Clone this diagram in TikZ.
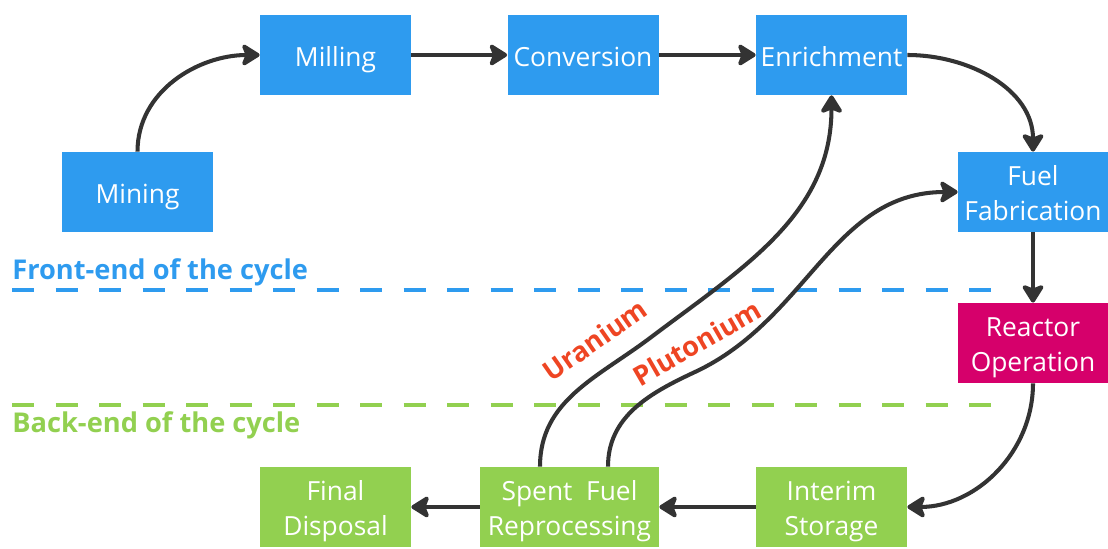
\documentclass[tikz,border=0pt]{standalone}
\usepackage{fontspec}
\setmainfont{Open Sans}
\usetikzlibrary{arrows.meta}
\definecolor{stageblue}{HTML}{2E9BEF}
\definecolor{stagegreen}{HTML}{92D050}
\definecolor{reactorpink}{HTML}{D6006B}
\definecolor{flowgray}{HTML}{333333}
\definecolor{fuelred}{HTML}{EE4523}
\begin{document}
\begin{tikzpicture}[stage/.style={rectangle,minimum width=3.02cm,minimum height=1.6cm,inner sep=0pt,align=center,text=white,font=\fontsize{15}{20}\selectfont,
execute at begin node={\rule{0pt}{16.5pt}},execute at end node={\rule[-3.8pt]{0pt}{3.8pt}}},
twoline/.style={text height=36pt,text depth=3.8pt},
front/.style={stage,fill=stageblue},back/.style={stage,twoline,fill=stagegreen},
flow/.style={draw=flowgray,line width=2.3pt,-{Stealth[length=0.42cm,width=0.52cm,inset=0.1cm,round]}},
phase/.style={line width=2.8pt,dash pattern=on 0.44cm off 0.43cm},
phaselabel/.style={anchor=base west,inner sep=0pt,font=\fontsize{15.5}{18}\selectfont\bfseries},
fuel/.style={text=fuelred,inner sep=0pt,font=\fontsize{15.5}{18}\selectfont\bfseries}
]
\useasboundingbox (0,0) rectangle (22.16,10.98);
\node[front] (mining) at (2.75,7.14) {Mining};
\node[front] (milling) at (6.71,9.88) {Milling};
\node[front] (conversion) at (11.66,9.88) {Conversion};
\node[front] (enrichment) at (16.63,9.88) {Enrichment};
\node[front,twoline,minimum width=3cm] (fabrication) at (20.66,7.14) {Fuel\\Fabrication};
\node[stage,twoline,minimum width=3cm,fill=reactorpink] (reactor) at (20.66,4.12) {Reactor\\Operation};
\node[back] (interim) at (16.63,0.84) {Interim\\Storage};
\node[back,minimum width=3.58cm] (spent) at (11.39,0.84) {Spent\ \ Fuel\\Reprocessing};
\node[back] (disposal) at (6.71,0.84) {Final\\Disposal};
\coordinate (frontstart) at (0.24,5.18);
\coordinate (frontend) at (19.95,5.18);
\coordinate (backstart) at (0.24,2.88);
\coordinate (backend) at (19.95,2.88);
\draw[phase,stageblue] (frontstart) -- (frontend);
\draw[phase,stagegreen] (backstart) -- (backend);
\node[phaselabel,text=stageblue] (frontlabel) at (0.24,5.38) {Front-end of the cycle};
\node[phaselabel,text=stagegreen] (backlabel) at (0.24,2.32) {Back-end of the cycle};
\draw[flow] (mining.north) to[out=90,in=180] (milling.west);
\draw[flow] (milling) -- (conversion);
\draw[flow] (conversion) -- (enrichment);
\draw[flow] (enrichment.east) to[out=0,in=90] (fabrication.north);
\draw[flow] (fabrication) -- (reactor);
\draw[flow] (reactor.south) to[out=-90,in=0] (interim.east);
\draw[flow] (interim) -- (spent);
\draw[flow] (spent) -- (disposal);
\coordinate (ubend) at (13.0,4.22);
\coordinate (pbend) at (13.9,3.54);
\draw[flow] ([xshift=-0.59cm]spent.north) to[out=90,in=217] (ubend) to[out=37,in=-90] (enrichment.south);
\draw[flow] ([xshift=0.77cm]spent.north) to[out=90,in=205] (pbend) to[out=25,in=180] (fabrication.west);
\node[fuel,rotate=35] (uranium) at (11.9,4.18) {Uranium};
\node[fuel,rotate=30] (plutonium) at (13.94,4.12) {Plutonium};
\end{tikzpicture}
\end{document}
